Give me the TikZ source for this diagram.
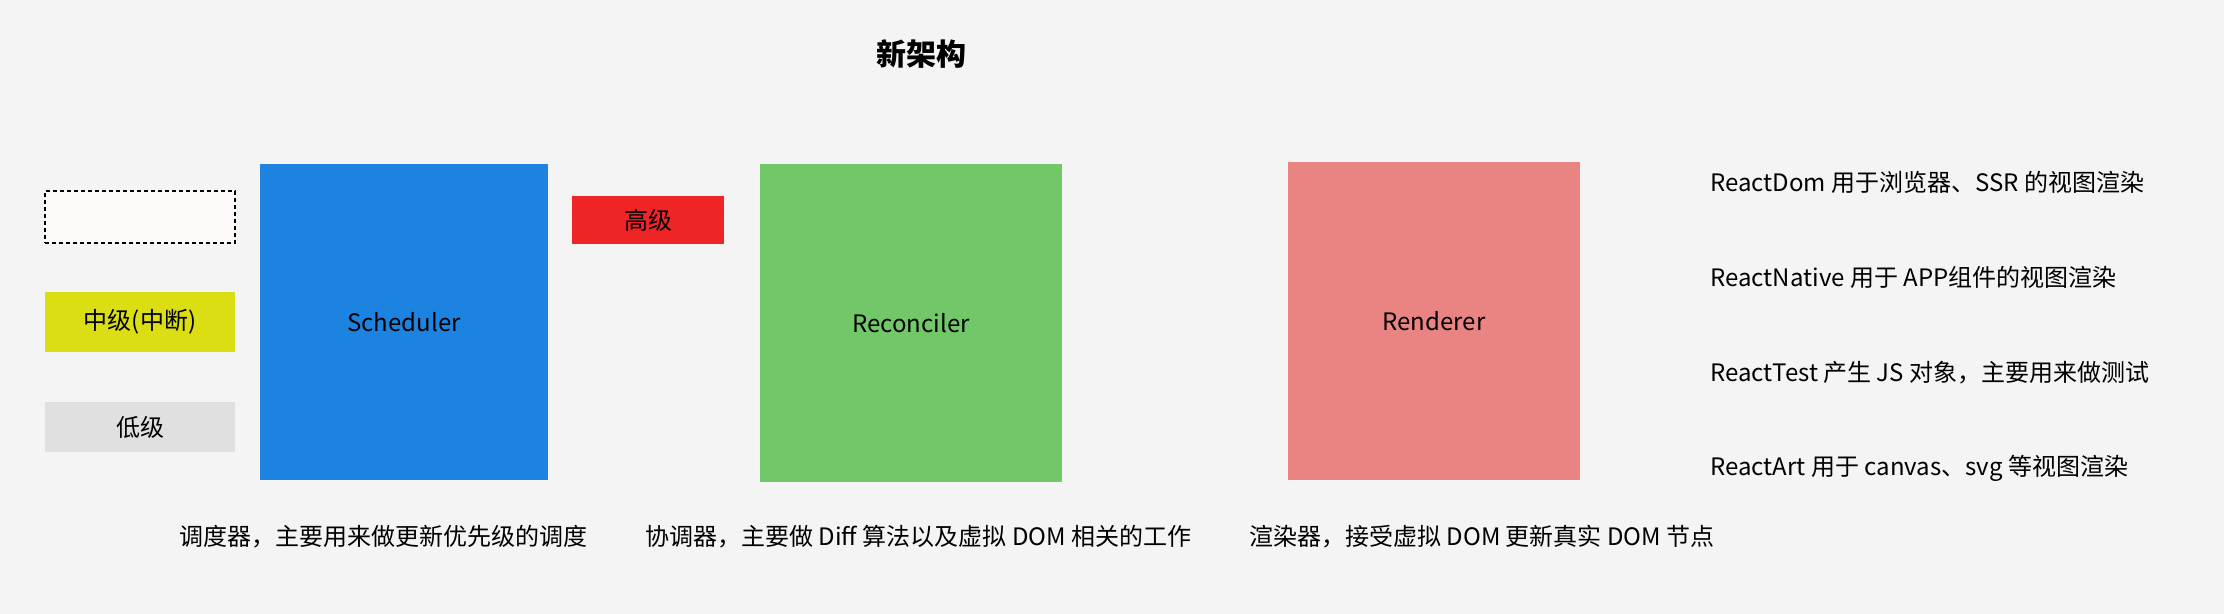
\documentclass[tikz,border=0pt]{standalone}
\usepackage{fontspec}
\setmainfont{Noto Sans CJK SC}
\usetikzlibrary{positioning}
\definecolor{canvas}{HTML}{F4F4F4}
\definecolor{schedblue}{HTML}{1D83E1}
\definecolor{recgreen}{HTML}{72C768}
\definecolor{renderpink}{HTML}{E98482}
\definecolor{highred}{HTML}{EF2427}
\definecolor{midyellow}{HTML}{DADE13}
\definecolor{lowgray}{HTML}{E0E0E0}
\definecolor{paleslot}{HTML}{FDFAF9}

\begin{document}
\begin{tikzpicture}[x=0.5pt,y=-0.5pt,
    block/.style={inner sep=0pt,outer sep=0pt,font=\fontsize{12pt}{14pt}\selectfont},
    level/.style={block,minimum width=95pt},
    module/.style={block,minimum height=159pt},
    note/.style={inner sep=0pt,anchor=west,font=\fontsize{12pt}{14pt}\selectfont}]
  \fill[canvas] (0,0) rectangle (2224,614);

  \node[font=\fontsize{15pt}{18pt}\selectfont\bfseries] (title) at (921,54) {新架构};

  % priority levels
  \node[level,minimum height=26pt,fill=paleslot,draw,line width=0.8pt,dash pattern=on 2pt off 1.5pt] (slot) at (140,217) {};
  \node[level,minimum height=30pt,fill=midyellow] (mid) at (140,322) {中级(中断)};
  \node[level,minimum height=25pt,fill=lowgray] (low) at (140,427) {低级};
  \node[block,minimum width=76pt,minimum height=24pt,fill=highred] (high) at (648,220) {高级};

  % main modules
  \node[module,minimum width=144pt,minimum height=158pt,fill=schedblue] (sched) at (404,322) {Scheduler};
  \node[module,minimum width=151pt,fill=recgreen] (recon) at (911,323) {Reconciler};
  \node[module,minimum width=146pt,fill=renderpink] (render) at (1434,321) {Renderer};

  \node[note] (schednote) at (179,537) {调度器，主要用来做更新优先级的调度};
  \node[note] (reconnote) at (645,537) {协调器，主要做 Diff 算法以及虚拟 DOM 相关的工作};
  \node[note] (rendernote) at (1249,537) {渲染器，接受虚拟 DOM 更新真实 DOM 节点};

  % renderer targets
  \node[note] (dom) at (1710,182) {ReactDom 用于浏览器、SSR 的视图渲染};
  \node[note] (native) at (1710,277) {ReactNative 用于 APP组件的视图渲染};
  \node[note] (test) at (1710,373) {ReactTest 产生 JS 对象，主要用来做测试};
  \node[note] (art) at (1710,468) {ReactArt 用于 canvas、svg 等视图渲染};
\end{tikzpicture}
\end{document}
